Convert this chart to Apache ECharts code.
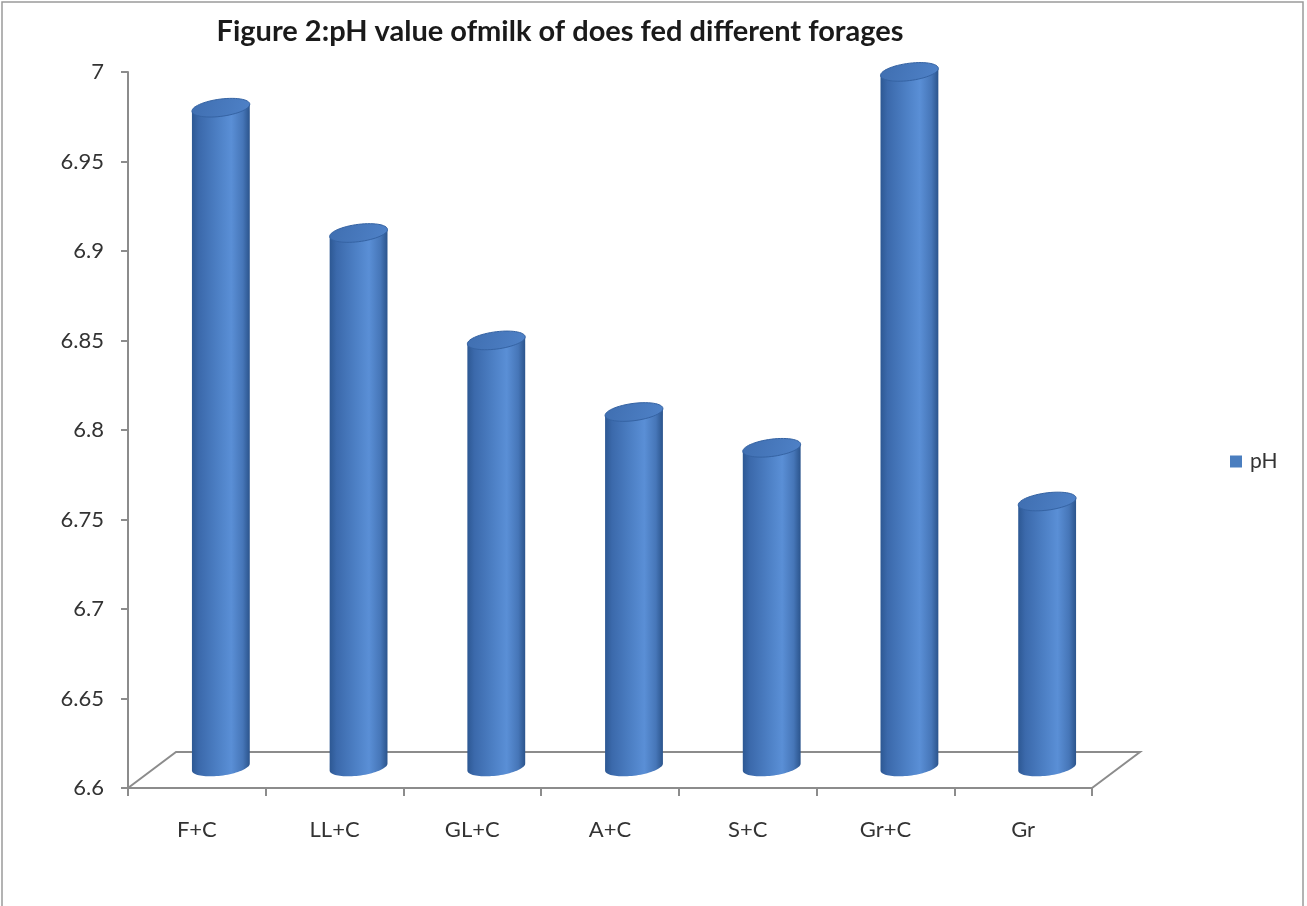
<!DOCTYPE html>
<html>
<head>
<meta charset="utf-8">
<title>pH value of milk</title>
<script src="https://cdn.jsdelivr.net/npm/echarts@6/dist/echarts.min.js"></script>
<style>
  html, body { margin: 0; padding: 0; background: #fff; }
  #chart { width: 1307px; height: 906px; }
</style>
</head>
<body>
<div id="chart"></div>
<script>
// Forage treatments and the pH of the does' milk
const categories = ['F+C', 'LL+C', 'GL+C', 'A+C', 'S+C', 'Gr+C', 'Gr'];
const phValues = [6.97, 6.90, 6.84, 6.80, 6.78, 6.99, 6.75];
const seriesName = 'pH';
const yMin = 6.6;
const yMax = 7;
const yStep = 0.05;

// Depth of the 3D floor (pixels): back edge offset from the front axis
const DEPTH_X = 48;
const DEPTH_Y = -36;
const SHEAR = 0.12;        // tilt of the cylinder caps
const BAR_RATIO = 0.42;    // cylinder diameter as a share of the category band
const AXIS_COLOR = '#8c8c8c';
const TEXT_COLOR = '#333333';

function ellipsePoints(cx, cy, rx, ry, t0, t1, n) {
  const pts = [];
  for (let i = 0; i <= n; i++) {
    const t = t0 + (t1 - t0) * i / n;
    const dx = rx * Math.cos(t);
    pts.push([cx + dx, cy + ry * Math.sin(t) - SHEAR * dx]);
  }
  return pts;
}

// Floor of the 3D plot, drawn from the category band edges at the axis minimum
function renderFloor(params, api) {
  const band = api.size([1, 0])[0];
  const first = api.coord([0, yMin]);
  const last = api.coord([categories.length - 1, yMin]);
  const x0 = first[0] - band / 2;
  const x1 = last[0] + band / 2;
  const y = first[1];
  return {
    type: 'polyline',
    shape: {
      points: [
        [x0, y], [x0 + DEPTH_X, y + DEPTH_Y],
        [x1 + DEPTH_X, y + DEPTH_Y], [x1, y]
      ]
    },
    style: { stroke: AXIS_COLOR, lineWidth: 2, fill: null },
    silent: true
  };
}

// Cylinder for one category, placed half-way into the floor depth
function renderCylinder(params, api) {
  const idx = api.value(0);
  const top = api.coord([idx, api.value(1)]);
  const base = api.coord([idx, yMin]);
  const band = api.size([1, 0])[0];
  const rx = band * BAR_RATIO / 2;
  const ry = rx * 0.3;
  const cx = top[0] + DEPTH_X / 2;
  const yTop = top[1] + DEPTH_Y / 2;
  const yBot = base[1] + DEPTH_Y / 2 - 3;

  // body outline: left edge down, front half of base, right edge up
  const body = [[cx - rx, yTop + SHEAR * rx]]
    .concat(ellipsePoints(cx, yBot, rx, ry, Math.PI, 0, 40))
    .concat([[cx + rx, yTop - SHEAR * rx]]);
  const cap = ellipsePoints(cx, yTop, rx, ry, 0, Math.PI * 2, 60);

  return {
    type: 'group',
    children: [
      {
        type: 'polygon',
        shape: { points: body },
        style: {
          fill: new echarts.graphic.LinearGradient(0, 0, 1, 0, [
            { offset: 0, color: '#2d5893' },
            { offset: 0.12, color: '#3b69ab' },
            { offset: 0.45, color: '#4d80c5' },
            { offset: 0.68, color: '#5a8fd6' },
            { offset: 0.88, color: '#4676b8' },
            { offset: 1, color: '#2b548c' }
          ]),
          stroke: null
        }
      },
      {
        type: 'polygon',
        shape: { points: cap },
        style: {
          fill: new echarts.graphic.LinearGradient(0, 0, 1, 1, [
            { offset: 0, color: '#3f6eb0' },
            { offset: 1, color: '#4f82c8' }
          ]),
          stroke: '#3563a3',
          lineWidth: 1
        }
      }
    ]
  };
}

const chart = echarts.init(document.getElementById('chart'), null, { renderer: 'canvas' });

chart.setOption({
  backgroundColor: '#ffffff',
  animation: false,
  title: {
    text: 'Figure 2:pH value ofmilk of does fed different forages',
    left: 555,
    top: 12,
    textAlign: 'center',
    textStyle: {
      fontFamily: 'Lato',
      fontWeight: 'bold',
      fontSize: 29,
      color: '#1a1a1a'
    }
  },
  legend: {
    data: [seriesName],
    left: 1225,
    top: 446,
    icon: 'rect',
    itemWidth: 12,
    itemHeight: 12,
    itemGap: 8,
    textStyle: { fontFamily: 'Lato', fontSize: 21, color: TEXT_COLOR, padding: [0, 0, 0, 3] }
  },
  graphic: [
    {
      type: 'rect',
      shape: { x: 2, y: 2, width: 1301, height: 920 },
      style: { fill: null, stroke: '#9a9a9a', lineWidth: 1.5 },
      silent: true,
      z: 0
    }
  ],
  grid: {
    left: 128,
    top: 72,
    width: 964,
    bottom: 118,
    containLabel: false
  },
  xAxis: {
    type: 'category',
    data: categories,
    boundaryGap: true,
    axisLine: { lineStyle: { color: AXIS_COLOR, width: 2 } },
    axisTick: { show: true, alignWithLabel: false, length: 8, lineStyle: { color: AXIS_COLOR, width: 2 } },
    axisLabel: { margin: 31, fontFamily: 'Lato', fontSize: 22, color: TEXT_COLOR },
    splitLine: { show: false }
  },
  yAxis: {
    type: 'value',
    min: yMin,
    max: yMax,
    interval: yStep,
    axisLine: { show: true, lineStyle: { color: AXIS_COLOR, width: 2 } },
    axisTick: { show: true, length: 7, lineStyle: { color: AXIS_COLOR, width: 2 } },
    axisLabel: {
      margin: 24,
      fontFamily: 'Lato',
      fontSize: 22,
      color: TEXT_COLOR,
      formatter: v => String(parseFloat(v.toFixed(2)))
    },
    splitLine: { show: false }
  },
  series: [
    {
      type: 'custom',
      name: 'floor',
      renderItem: renderFloor,
      data: [[0, yMin]],
      silent: true,
      z: 1
    },
    {
      type: 'custom',
      name: seriesName,
      renderItem: renderCylinder,
      itemStyle: { color: '#4a7ebf' },
      data: phValues.map((v, i) => [i, v]),
      encode: { x: 0, y: 1 },
      z: 2
    }
  ]
});
</script>
</body>
</html>
